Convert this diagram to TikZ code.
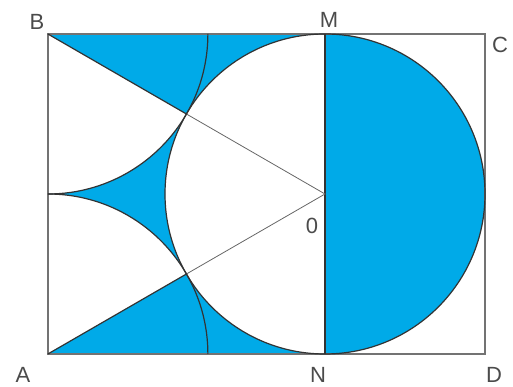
\documentclass[tikz,border=0pt]{standalone}
\usepackage{fontspec}
\setmainfont{Liberation Sans}
\definecolor{fillblue}{RGB}{0,170,232}
\definecolor{lbl}{RGB}{75,75,75}
\begin{document}
\begin{tikzpicture}[x=1pt,y=1pt,
  edge/.style={draw=black!80, line width=1.2pt},
  thin/.style={draw=black!60, line width=0.8pt},
  frame/.style={draw=black!55, line width=1.3pt},
  lab/.style={text=lbl, font=\fontsize{22}{24}\selectfont, inner sep=0pt}]
\useasboundingbox (0,0) rectangle (513,387);
\coordinate (O) at (325,193);
\coordinate (M) at (325,353);
\coordinate (N) at (325,33);
\coordinate (B) at (47.872,353);
\coordinate (A) at (47.872,33);
\coordinate (C) at (485,353);
\coordinate (D) at (485,33);
\coordinate (E) at (47.872,193);
\coordinate (T) at (186.436,273);
\coordinate (U) at (186.436,113);
% fills
\fill[fillblue] (M) arc[start angle=90,end angle=-90,radius=160] -- cycle;
\fill[fillblue] (B) -- (M) arc[start angle=90,end angle=150,radius=160] -- cycle;
\fill[fillblue] (A) -- (N) arc[start angle=-90,end angle=-150,radius=160] -- cycle;
\fill[fillblue] (E) arc[start angle=-90,end angle=-30,radius=160]
  arc[start angle=150,end angle=210,radius=160]
  arc[start angle=30,end angle=90,radius=160] -- cycle;
% frame
\draw[frame] (A) -- (B) -- (C) -- (D) -- cycle;
% lines
\draw[edge] (M) -- (N);
\draw[edge] (B) -- (T);
\draw[edge] (A) -- (U);
\draw[thin] (T) -- (O) -- (U);
\draw[edge] (O) circle[radius=160];
\draw[edge] (E) arc[start angle=-90,end angle=0,radius=160];
\draw[edge] (E) arc[start angle=90,end angle=0,radius=160];
% labels
\node[lab] (lB) at (37,365) {B};
\node[lab] (lM) at (329,367) {M};
\node[lab] (lC) at (500,342) {C};
\node[lab] (lA) at (23,12) {A};
\node[lab] (lN) at (318,12) {N};
\node[lab] (lD) at (494,12) {D};
\node[lab] (lO) at (312,161) {0};
\end{tikzpicture}
\end{document}
